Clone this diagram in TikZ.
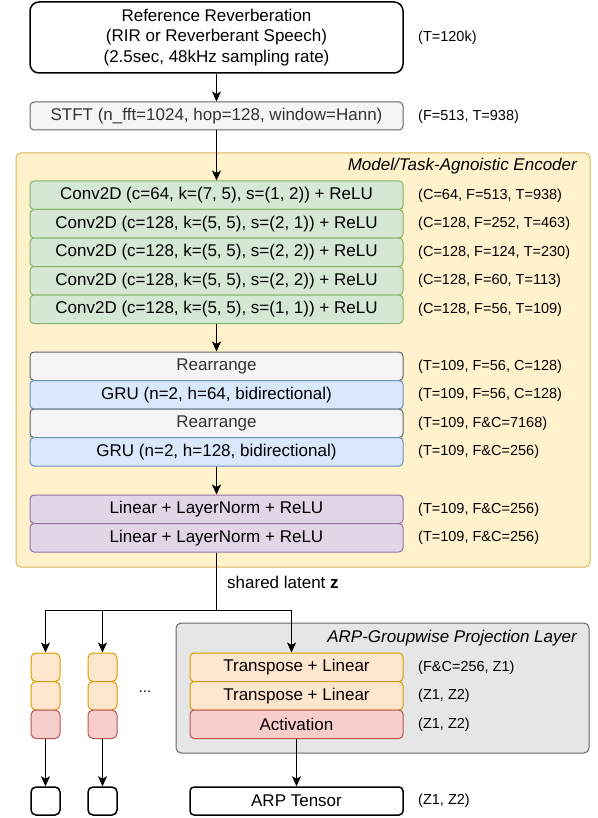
\documentclass[tikz,border=0pt]{standalone}
\usepackage{fontspec}
\setmainfont{Liberation Sans}
\usetikzlibrary{arrows.meta}
\definecolor{grnF}{HTML}{D5E8D4}\definecolor{grnD}{HTML}{82B366}
\definecolor{bluF}{HTML}{DAE8FC}\definecolor{bluD}{HTML}{6C8EBF}
\definecolor{purF}{HTML}{E1D5E7}\definecolor{purD}{HTML}{9673A6}
\definecolor{gryF}{HTML}{F5F5F5}\definecolor{gryD}{HTML}{666666}\definecolor{gryT}{HTML}{333333}
\definecolor{yelF}{HTML}{FFF2CC}\definecolor{yelD}{HTML}{D6B656}
\definecolor{orgF}{HTML}{FFE6CC}\definecolor{orgD}{HTML}{D79B00}
\definecolor{redF}{HTML}{F8CECC}\definecolor{redD}{HTML}{B85450}
\definecolor{conF}{HTML}{E6E6E6}
\begin{document}
\begin{tikzpicture}[x=1pt,y=-1pt,
  box/.style={draw, rounded corners=4pt, line width=1pt, inner sep=0pt,
    minimum height=28.5pt, minimum width=373pt,
    font=\fontsize{17}{20.5}\selectfont, anchor=center},
  wbox/.style={box, line width=1.5pt, fill=white, draw=black},
  grnbox/.style={box, fill=grnF, draw=grnD},
  blubox/.style={box, fill=bluF, draw=bluD},
  purbox/.style={box, fill=purF, draw=purD},
  grybox/.style={box, fill=gryF, draw=gryD, text=gryT},
  orgbox/.style={box, fill=orgF, draw=orgD},
  redbox/.style={box, fill=redF, draw=redD},
  container/.style={draw, rounded corners=5pt, line width=1pt},
  lab/.style={anchor=west, inner sep=0pt, font=\fontsize{14.5}{17}\selectfont},
  ttl/.style={anchor=east, inner sep=0pt, font=\fontsize{17}{20.5}\selectfont\itshape},
  arrow/.style={-{Stealth[length=10pt,width=9pt,inset=2.5pt]}, line width=1.2pt},
  conn/.style={line width=1.2pt}
]
\useasboundingbox (0,0) rectangle (597,818);

% top
\node[wbox, minimum height=71pt, rounded corners=9pt, align=center] (top) at (216.5,37.5)
  {Reference Reverberation\\(RIR or Reverberant Speech)\\(2.5sec, 48kHz sampling rate)};
\node[lab] (l0) at (418,38) {(T=120k)};
\node[grybox, minimum height=28pt] (stft) at (216.5,116) {STFT (n\_fft=1024, hop=128, window=Hann)};
\node[lab] (l1) at (418,117) {(F=513, T=938)};

% encoder container
\node[container, fill=yelF, draw=yelD, minimum width=574pt, minimum height=414pt, inner sep=0pt] (enc) at (303,360) {};
\node[ttl] (encT) at (577,166) {Model/Task-Agnoistic Encoder};

\node[grnbox] (c1) at (216.5,195.25) {Conv2D (c=64, k=(7, 5), s=(1, 2)) + ReLU};
\node[grnbox] (c2) at (216.5,223.75) {Conv2D (c=128, k=(5, 5), s=(2, 1)) + ReLU};
\node[grnbox] (c3) at (216.5,252.25) {Conv2D (c=128, k=(5, 5), s=(2, 2)) + ReLU};
\node[grnbox] (c4) at (216.5,280.75) {Conv2D (c=128, k=(5, 5), s=(2, 2)) + ReLU};
\node[grnbox] (c5) at (216.5,309.25) {Conv2D (c=128, k=(5, 5), s=(1, 1)) + ReLU};
\node[lab] at (418,195.25) {(C=64, F=513, T=938)};
\node[lab] at (418,223.75) {(C=128, F=252, T=463)};
\node[lab] at (418,252.25) {(C=128, F=124, T=230)};
\node[lab] at (418,280.75) {(C=128, F=60, T=113)};
\node[lab] at (418,309.25) {(C=128, F=56, T=109)};

\node[grybox] (r1) at (216.5,366.25) {Rearrange};
\node[blubox] (g1) at (216.5,394.75) {GRU (n=2, h=64, bidirectional)};
\node[grybox] (r2) at (216.5,423.25) {Rearrange};
\node[blubox] (g2) at (216.5,451.75) {GRU (n=2, h=128, bidirectional)};
\node[lab] at (418,366.25) {(T=109, F=56, C=128)};
\node[lab] at (418,394.75) {(T=109, F=56, C=128)};
\node[lab] at (418,423.25) {(T=109, F\&C=7168)};
\node[lab] at (418,451.75) {(T=109, F\&C=256)};

\node[purbox] (p1) at (216.5,509.25) {Linear + LayerNorm + ReLU};
\node[purbox] (p2) at (216.5,537.75) {Linear + LayerNorm + ReLU};
\node[lab] at (418,509.25) {(T=109, F\&C=256)};
\node[lab] at (418,537.75) {(T=109, F\&C=256)};

% projection container
\node[container, fill=conF, draw=gryD, minimum width=413pt, minimum height=130pt, inner sep=0pt] (prj) at (382.5,688) {};
\node[ttl] (prjT) at (577,638) {ARP-Groupwise Projection Layer};

\node[orgbox, minimum width=213pt] (t1) at (296.5,667.25) {Transpose + Linear};
\node[orgbox, minimum width=213pt] (t2) at (296.5,695.75) {Transpose + Linear};
\node[redbox, minimum width=213pt] (act) at (296.5,724.25) {Activation};
\node[lab] at (418,667.25) {(F\&C=256, Z1)};
\node[lab] at (418,695.75) {(Z1, Z2)};
\node[lab] at (418,724.25) {(Z1, Z2)};

\node[wbox, minimum width=213pt, minimum height=28pt] (arp) at (296.5,801) {ARP Tensor};
\node[lab] at (418,801) {(Z1, Z2)};

% small columns
\foreach \n/\x in {a/45.5,b/102.5}{
  \node[orgbox, minimum width=29pt, rounded corners=5pt] (s\n1) at (\x,667.25) {};
  \node[orgbox, minimum width=29pt, rounded corners=5pt] (s\n2) at (\x,695.75) {};
  \node[redbox, minimum width=29pt, rounded corners=5pt] (s\n3) at (\x,724.25) {};
  \node[wbox, minimum width=29pt, minimum height=28pt, rounded corners=5pt] (s\n4) at (\x,801) {};
  \draw[arrow] (s\n3.south) -- (s\n4.north);
}
\node[inner sep=0pt, font=\fontsize{14.5}{17}\selectfont] (dots) at (145,692) {...};

% connectors
\draw[arrow] (top.south) -- (stft.north);
\draw[arrow] (stft.south) -- (c1.north);
\draw[arrow] (c5.south) -- (r1.north);
\draw[arrow] (g2.south) -- (p1.north);
\coordinate (j) at (216.5,610.5);
\coordinate (jr) at (291.5,610.5);
\draw[conn] (p2.south) -- (j);
\node[lab, font=\fontsize{17}{20.5}\selectfont] (sl) at (227,582) {shared latent \textbf{z}};
\draw[arrow] (j) -| (sa1.north);
\draw[arrow] (j) -| (sb1.north);
\draw[arrow] (j) -- (jr) -- (jr |- t1.north);
\draw[arrow] (act.south) -- (arp.north);
\end{tikzpicture}
\end{document}
